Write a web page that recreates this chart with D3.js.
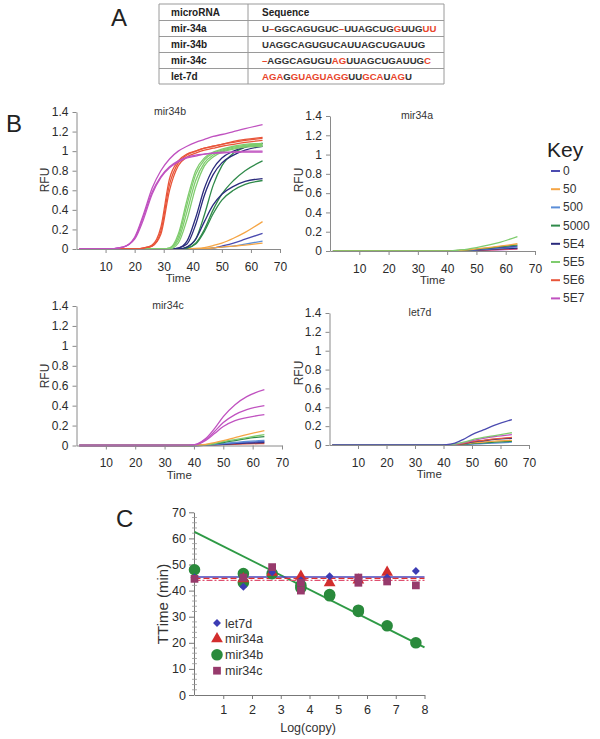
<!DOCTYPE html>
<html>
<head>
<meta charset="utf-8">
<script src="https://cdn.jsdelivr.net/npm/d3@7"></script>
<style>
  body { margin: 0; background: #fff; }
  svg { font-family: "Liberation Sans", Arial, sans-serif; }
</style>
</head>
<body>
<div id="chart"></div>
<script>
// ---- panel A: sequence table ----
var microRNAs = ["mir-34a", "mir-34b", "mir-34c", "let-7d"];
var sequences = [
  [["U", 0], ["\u2013", 1], ["GGCAGUGUC", 0], ["\u2013", 1], ["UUAGCUG", 0], ["G", 1], ["UUG", 0], ["UU", 1]],
  [["UAGGCAGUGUCAUUAGCUGAUUG", 0]],
  [["\u2013", 1], ["AGGCAGUGU", 0], ["AG", 1], ["UUAGCUGAUUG", 0], ["C", 1]],
  [["AGA", 1], ["G", 0], ["GUAGUAGG", 1], ["UU", 0], ["GCA", 1], ["U", 0], ["AG", 1], ["U", 0]]
];

// ---- panel B: amplification curves ----
var keyLabels = ["0", "50", "500", "5000", "5E4", "5E5", "5E6", "5E7"];
var times = [1, 10, 16, 20, 23, 26, 29, 32, 35, 38, 41, 44, 47, 50, 54, 58, 64];
var mir34bCurves = [
  ["0",    [0,0,0,0,0,0,0,0,0,0,0,0,0.01,0.03,0.06,0.10,0.16]],
  ["500",  [0,0,0,0,0,0,0,0,0,0,0,0.005,0.01,0.02,0.03,0.05,0.08]],
  ["50",   [0,0,0,0,0,0,0,0,0,0,0.005,0.015,0.035,0.06,0.11,0.17,0.28]],
  ["50",   [0,0,0,0,0,0,0,0,0,0,0,0.005,0.01,0.02,0.03,0.04,0.06]],
  ["5000", [0,0,0,0,0,0,0,0,0,0.01,0.06,0.20,0.40,0.56,0.70,0.80,0.90]],
  ["5000", [0,0,0,0,0,0,0,0,0,0.01,0.05,0.18,0.36,0.50,0.60,0.66,0.70]],
  ["5000", [0,0,0,0,0,0,0,0,0,0.02,0.10,0.35,0.65,0.85,0.98,1.04,1.08]],
  ["5E4",  [0,0,0,0,0,0,0,0,0.01,0.08,0.32,0.62,0.82,0.93,1.00,1.04,1.08]],
  ["5E4",  [0,0,0,0,0,0,0,0,0.01,0.05,0.25,0.55,0.76,0.88,0.96,1.01,1.05]],
  ["5E4",  [0,0,0,0,0,0,0,0,0,0.02,0.10,0.28,0.45,0.56,0.64,0.69,0.72]],
  ["5E5",  [0,0,0,0,0,0,0,0.01,0.15,0.50,0.80,0.93,0.99,1.02,1.05,1.07,1.08]],
  ["5E5",  [0,0,0,0,0,0,0,0.01,0.12,0.45,0.76,0.91,0.98,1.01,1.04,1.06,1.07]],
  ["5E5",  [0,0,0,0,0,0,0,0.01,0.09,0.38,0.70,0.88,0.96,1.00,1.03,1.05,1.06]],
  ["5E5",  [0,0,0,0,0,0,0,0,0.06,0.30,0.63,0.85,0.94,0.99,1.02,1.04,1.05]],
  ["5E6",  [0,0,0,0,0.01,0.04,0.22,0.72,0.90,0.97,1.00,1.03,1.05,1.07,1.10,1.12,1.14]],
  ["5E6",  [0,0,0,0,0.01,0.03,0.18,0.66,0.88,0.96,1.00,1.03,1.05,1.07,1.09,1.11,1.13]],
  ["5E6",  [0,0,0,0,0.01,0.03,0.15,0.60,0.85,0.94,0.98,1.01,1.03,1.05,1.07,1.09,1.11]],
  ["5E7",  [0,0,0.02,0.12,0.35,0.62,0.80,0.92,1.00,1.05,1.09,1.12,1.15,1.17,1.20,1.23,1.27]],
  ["5E7",  [0,0,0.02,0.11,0.33,0.58,0.74,0.84,0.90,0.94,0.96,0.97,0.98,0.99,0.99,1.00,1.00]],
  ["5E7",  [0,0,0.02,0.10,0.30,0.56,0.73,0.83,0.89,0.93,0.95,0.97,0.98,0.98,0.99,0.99,0.99]]
];
var lowTimes = [1, 10, 20, 30, 38, 41, 44, 47, 50, 54, 58, 64];
var mir34aCurves = [
  ["5E7",  [0,0,0,0,0,0,0.001,0.003,0.006,0.009,0.013,0.02]],
  ["5E6",  [0,0,0,0,0,0,0.001,0.004,0.008,0.012,0.018,0.025]],
  ["5E4",  [0,0,0,0,0,0,0.002,0.005,0.01,0.015,0.022,0.03]],
  ["500",  [0,0,0,0,0,0,0.002,0.006,0.012,0.02,0.03,0.04]],
  ["0",    [0,0,0,0,0,0,0.003,0.008,0.015,0.025,0.035,0.05]],
  ["5000", [0,0,0,0,0,0,0.005,0.01,0.02,0.03,0.045,0.06]],
  ["50",   [0,0,0,0,0,0,0.005,0.012,0.022,0.035,0.05,0.075]],
  ["5E5",  [0,0,0,0,0,0.002,0.01,0.02,0.035,0.06,0.09,0.15]]
];
var mir34cCurves = [
  ["5E6",  [0,0,0,0,0,0,0.002,0.005,0.008,0.012,0.016,0.02]],
  ["5E4",  [0,0,0,0,0,0,0.003,0.007,0.012,0.018,0.024,0.03]],
  ["0",    [0,0,0,0,0,0,0.004,0.01,0.016,0.024,0.032,0.04]],
  ["500",  [0,0,0,0,0,0,0.005,0.012,0.02,0.03,0.04,0.05]],
  ["5000", [0,0,0,0,0,0.002,0.007,0.018,0.03,0.05,0.07,0.09]],
  ["5E5",  [0,0,0,0,0,0.002,0.008,0.02,0.04,0.06,0.08,0.11]],
  ["50",   [0,0,0,0,0,0.003,0.01,0.03,0.05,0.08,0.11,0.15]],
  ["5E7",  [0,0,0,0,0.002,0.01,0.05,0.12,0.19,0.25,0.28,0.31]],
  ["5E7",  [0,0,0,0,0.002,0.012,0.06,0.14,0.23,0.31,0.36,0.40]],
  ["5E7",  [0,0,0,0,0.002,0.015,0.07,0.17,0.29,0.41,0.49,0.56]]
];
var let7dCurves = [
  ["500",  [0,0,0,0,0,0,0.002,0.006,0.01,0.015,0.02,0.03]],
  ["5000", [0,0,0,0,0,0,0.003,0.008,0.015,0.022,0.03,0.04]],
  ["50",   [0,0,0,0,0,0,0.004,0.012,0.022,0.032,0.042,0.05]],
  ["5E4",  [0,0,0,0,0,0,0.005,0.015,0.03,0.045,0.06,0.07]],
  ["5E6",  [0,0,0,0,0,0,0.006,0.018,0.035,0.05,0.065,0.08]],
  ["5E7",  [0,0,0,0,0,0.002,0.008,0.025,0.045,0.07,0.09,0.11]],
  ["5E5",  [0,0,0,0,0,0.002,0.01,0.03,0.055,0.08,0.10,0.13]],
  ["0",    [0,0,0,0,0,0.003,0.02,0.06,0.11,0.16,0.21,0.27]]
];
var rfuTicks = [0, 0.2, 0.4, 0.6, 0.8, 1, 1.2, 1.4];
var timeTicks = [10, 20, 30, 40, 50, 60, 70];

// ---- panel C: threshold time vs log(copy) ----
var let7dPts  = [[0, 45], [1.7, 41.5], [2.7, 47], [3.7, 44], [4.7, 45.5], [5.7, 44.5], [6.7, 45], [7.7, 47.5]];
var mir34aPts = [[1.7, 44.5], [2.7, 47], [3.7, 45.5], [4.7, 43], [5.7, 44], [6.7, 47]];
var mir34bPts = [[0, 48], [1.7, 46.5], [1.7, 43], [2.7, 46.5], [3.7, 42], [3.7, 41], [4.7, 38.5], [4.7, 38], [5.7, 32.5], [5.7, 32], [6.7, 26.5], [7.7, 20]];
var mir34cPts = [[0, 44.5], [1.7, 45], [2.7, 49], [3.7, 40], [3.7, 43], [5.7, 45], [5.7, 43], [6.7, 43.5], [7.7, 42]];
var mir34bFit = [62.5, -5.53];   // intercept, slope
var let7dFit = 45.2, mir34aFit = 44.7, mir34cFit = 43.9;

var keyColor = {
  "0": "#4b4bb0", "50": "#f5a545", "500": "#5b8ed8", "5000": "#2f8a4a",
  "5E4": "#2a2a7c", "5E5": "#7fcc6e", "5E6": "#e8553a", "5E7": "#c052c0"
};

var svg = d3.select("#chart").append("svg")
  .attr("width", 600).attr("height", 739);

// big panel letters
[["A", 111, 26], ["B", 6, 132], ["C", 116, 527]].forEach(function (d) {
  svg.append("text").attr("x", d[1]).attr("y", d[2])
    .attr("font-size", 24).attr("fill", "#222").text(d[0]);
});

// ---- table ----
var tbl = svg.append("g");
var tx0 = 159, tx1 = 248, tx2 = 444;
var rowEdges = [4, 20.5, 36.5, 52.5, 68.5, 84];
rowEdges.forEach(function (y, i) {
  tbl.append("line").attr("x1", tx0).attr("x2", tx2).attr("y1", y).attr("y2", y)
    .attr("stroke", "#9a9a9a").attr("stroke-width", (i == 0 || i == 5) ? 1.2 : 1);
});
[tx0, tx1, tx2].forEach(function (x) {
  tbl.append("line").attr("x1", x).attr("x2", x).attr("y1", 4).attr("y2", 84)
    .attr("stroke", "#9a9a9a");
});
tbl.append("text").attr("x", 171).attr("y", 16).attr("font-size", 10)
  .attr("font-weight", "bold").attr("fill", "#222").text("microRNA");
tbl.append("text").attr("x", 262).attr("y", 16).attr("font-size", 10)
  .attr("font-weight", "bold").attr("fill", "#222").text("Sequence");
microRNAs.forEach(function (name, i) {
  var y = 32 + i * 16;
  tbl.append("text").attr("x", 171).attr("y", y).attr("font-size", 10)
    .attr("font-weight", "bold").attr("fill", "#222").text(name);
  var t = tbl.append("text").attr("x", 262).attr("y", y).attr("font-size", 9.6)
    .attr("font-weight", "bold");
  sequences[i].forEach(function (s) {
    t.append("tspan").attr("fill", s[1] ? "#e8452c" : "#333").text(s[0]);
  });
});

// ---- amplification panels ----
function drawPanel(cfg) {
  var x = d3.scaleLinear().domain([0, 70]).range(cfg.xr);
  var y = d3.scaleLinear().domain([0, 1.4]).range(cfg.yr);
  var g = svg.append("g");

  var line = d3.line()
    .x(function (d) { return x(d[0]); })
    .y(function (d) { return y(d[1]); })
    .curve(d3.curveMonotoneX);

  cfg.curves.forEach(function (c) {
    var pts = cfg.times.map(function (t, i) { return [t, c[1][i]]; });
    g.append("path").attr("d", line(pts))
      .attr("fill", "none").attr("stroke", keyColor[c[0]])
      .attr("stroke-width", 1.3);
  });

  var xa = g.append("g").attr("transform", "translate(0," + cfg.yr[0] + ")")
    .call(d3.axisBottom(x).tickValues(timeTicks).tickSize(4).tickPadding(9).tickSizeOuter(0));
  var ya = g.append("g").attr("transform", "translate(" + cfg.xr[0] + ",0)")
    .call(d3.axisLeft(y).tickValues(rfuTicks).tickSize(4).tickPadding(4).tickSizeOuter(0)
      .tickFormat(d3.format("")));
  [xa, ya].forEach(function (a) {
    a.select(".domain").attr("stroke", "#8a8a8a");
    a.selectAll(".tick line").attr("stroke", "#8a8a8a");
    a.selectAll(".tick text").attr("fill", "#2a2a2a").attr("font-size", 12)
      .attr("font-family", "Liberation Sans, Arial, sans-serif");
  });

  g.append("text").attr("x", cfg.titleX).attr("y", cfg.yr[1] + 3)
    .attr("text-anchor", "middle").attr("font-size", 10.5).attr("fill", "#333")
    .text(cfg.title);
  g.append("text").attr("x", (cfg.xr[0] + x(70)) / 2).attr("y", cfg.yr[0] + 33)
    .attr("text-anchor", "middle").attr("font-size", 11.5).attr("fill", "#333")
    .text("Time");
  g.append("text")
    .attr("transform", "translate(" + cfg.rfuX + "," + cfg.rfuY + ") rotate(-90)")
    .attr("text-anchor", "middle").attr("font-size", 12).attr("fill", "#333")
    .text("RFU");
}

drawPanel({ title: "mir34b", xr: [76.5, 280], yr: [249, 112], times: times,
  curves: mir34bCurves, titleX: 170, rfuX: 49, rfuY: 180 });
drawPanel({ title: "mir34a", xr: [330, 535], yr: [251, 116], times: lowTimes,
  curves: mir34aCurves, titleX: 417, rfuX: 303, rfuY: 180 });
drawPanel({ title: "mir34c", xr: [76.5, 282], yr: [445.5, 306], times: lowTimes,
  curves: mir34cCurves, titleX: 168, rfuX: 49, rfuY: 376 });
drawPanel({ title: "let7d", xr: [329.5, 529], yr: [445, 313], times: lowTimes,
  curves: let7dCurves, titleX: 420, rfuX: 303, rfuY: 373 });

// key
var key = svg.append("g");
key.append("text").attr("x", 547).attr("y", 157).attr("font-size", 21)
  .attr("fill", "#222").text("Key");
keyLabels.forEach(function (k, i) {
  var yy = 171 + i * 18.2;
  key.append("line").attr("x1", 551).attr("x2", 560).attr("y1", yy).attr("y2", yy)
    .attr("stroke", keyColor[k]).attr("stroke-width", 2);
  key.append("text").attr("x", 563).attr("y", yy + 4).attr("font-size", 12)
    .attr("fill", "#333").text(k);
});

// ---- panel C ----
var cx = d3.scaleLinear().domain([0, 8]).range([194.5, 424.5]);
var cy = d3.scaleLinear().domain([0, 70]).range([695, 512.3]);
var gc = svg.append("g");

var cxa = gc.append("g").attr("transform", "translate(0,695)")
  .call(d3.axisBottom(cx).tickValues([1, 2, 3, 4, 5, 6, 7, 8]).tickSize(4).tickPadding(6).tickSizeOuter(0));
var cya = gc.append("g").attr("transform", "translate(194,0)")
  .call(d3.axisLeft(cy).tickValues(d3.range(0, 71, 10)).tickSize(5).tickPadding(3).tickSizeOuter(0));
[cxa, cya].forEach(function (a) {
  a.select(".domain").attr("stroke", "#777");
  a.selectAll(".tick line").attr("stroke", "#777");
  a.selectAll(".tick text").attr("fill", "#2a2a2a").attr("font-size", 12.5)
    .attr("font-family", "Liberation Sans, Arial, sans-serif");
});
// minor ticks on y
gc.append("g").selectAll("line")
  .data(d3.range(0, 71, 2).filter(function (v) { return v % 10 != 0; }))
  .enter().append("line")
  .attr("x1", 192).attr("x2", 197)
  .attr("y1", function (d) { return cy(d); }).attr("y2", function (d) { return cy(d); })
  .attr("stroke", "#999").attr("stroke-width", 0.8);

gc.append("text").attr("x", 308).attr("y", 732).attr("text-anchor", "middle")
  .attr("font-size", 12.5).attr("fill", "#333").text("Log(copy)");
gc.append("text").attr("transform", "translate(168,604) rotate(-90)")
  .attr("text-anchor", "middle").attr("font-size", 15).attr("fill", "#333")
  .text("TTime (min)");

// fit lines
gc.append("line").attr("x1", cx(0)).attr("x2", cx(8))
  .attr("y1", cy(mir34bFit[0])).attr("y2", cy(mir34bFit[0] + mir34bFit[1] * 8))
  .attr("stroke", "#2e9a45").attr("stroke-width", 2);
gc.append("line").attr("x1", cx(0)).attr("x2", cx(8))
  .attr("y1", cy(let7dFit)).attr("y2", cy(let7dFit))
  .attr("stroke", "#4646c0").attr("stroke-width", 1.6);
gc.append("line").attr("x1", cx(0)).attr("x2", cx(8))
  .attr("y1", cy(mir34aFit)).attr("y2", cy(mir34aFit))
  .attr("stroke", "#e0302e").attr("stroke-width", 1.4).attr("stroke-dasharray", "6,3");
gc.append("line").attr("x1", cx(0)).attr("x2", cx(8))
  .attr("y1", cy(mir34cFit)).attr("y2", cy(mir34cFit))
  .attr("stroke", "#e05070").attr("stroke-width", 1.3).attr("stroke-dasharray", "6,2,2,2");

var cSeries = [
  { name: "let7d",  pts: let7dPts,  sym: d3.symbolDiamond2, size: 40, color: "#3c3cb4" },
  { name: "mir34a", pts: mir34aPts, sym: d3.symbolTriangle, size: 60, color: "#d22d2d" },
  { name: "mir34b", pts: mir34bPts, sym: d3.symbolCircle,   size: 105, color: "#2a8a3c" },
  { name: "mir34c", pts: mir34cPts, sym: d3.symbolSquare,   size: 60, color: "#973a6c" }
];
// draw order: circles under, then others
[2, 1, 0, 3].forEach(function (i) {
  var s = cSeries[i];
  gc.append("g").selectAll("path").data(s.pts).enter().append("path")
    .attr("d", d3.symbol().type(s.sym).size(s.size))
    .attr("transform", function (d) { return "translate(" + cx(d[0]) + "," + cy(d[1]) + ")"; })
    .attr("fill", s.color);
});
cSeries.forEach(function (s, i) {
  var yy = 623 + i * 15.9;
  gc.append("path").attr("d", d3.symbol().type(s.sym).size(s.size))
    .attr("transform", "translate(217," + yy + ")").attr("fill", s.color);
  gc.append("text").attr("x", 225).attr("y", yy + 4.5).attr("font-size", 12.5)
    .attr("fill", "#333").text(s.name);
});
</script>
</body>
</html>
